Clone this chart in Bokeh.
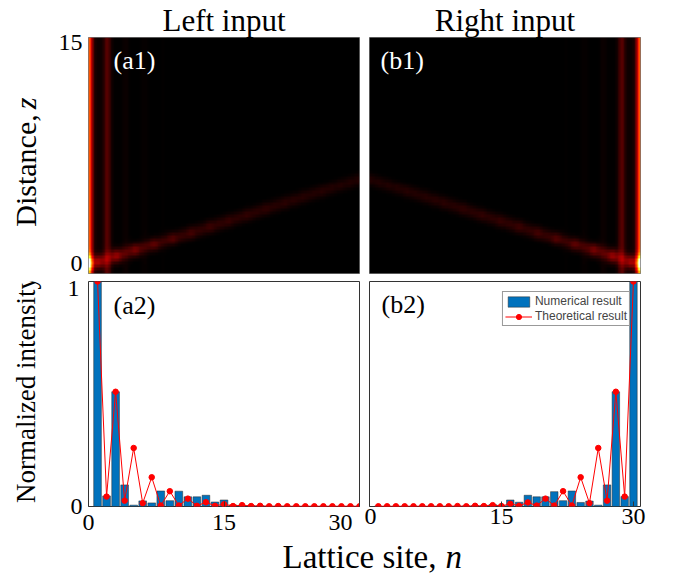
import numpy as np
from bokeh.plotting import figure
from bokeh.models import (LinearColorMapper, FixedTicker, Label, Range1d, Legend, LegendItem,
                          Title, LinearAxis)
from bokeh.layouts import column, row
from bokeh.embed import file_html
from bokeh.resources import INLINE
from bokeh.core.properties import value

# ---------------- data ----------------
sites = list(range(1, 31))
x_ticks = [0, 15, 30]
z_ticks = [0, 15]
y_ticks_low = [0]
y_ticks_high = [1]

numerical_left = [1.0, 0.047, 0.51, 0.096, 0.006, 0.025, 0.016, 0.069, 0.026, 0.068,
                  0.043, 0.043, 0.05, 0.02, 0.029, 0.007, 0.006, 0.004, 0.003, 0.002,
                  0.002, 0.002, 0.002, 0.002, 0.002, 0.002, 0.002, 0.002, 0.002, 0.002]
theory_left = [1.0, 0.044, 0.51, 0.026, 0.26, 0.015, 0.13, 0.004, 0.068, 0.004,
               0.035, 0.003, 0.019, 0.003, 0.01, 0.002, 0.006, 0.002, 0.003, 0.001,
               0.002, 0.001, 0.001, 0.001, 0.001, 0.001, 0.001, 0.001, 0.001, 0.001]
numerical_right = [0.002, 0.002, 0.002, 0.002, 0.002, 0.002, 0.002, 0.002, 0.002, 0.002,
                   0.003, 0.004, 0.005, 0.009, 0.006, 0.029, 0.019, 0.05, 0.043, 0.043,
                   0.066, 0.026, 0.069, 0.018, 0.024, 0.006, 0.096, 0.51, 0.044, 1.0]
theory_right = [0.001, 0.001, 0.001, 0.001, 0.001, 0.001, 0.001, 0.001, 0.001, 0.002,
                0.001, 0.003, 0.002, 0.006, 0.002, 0.012, 0.003, 0.018, 0.004, 0.035,
                0.004, 0.068, 0.004, 0.13, 0.015, 0.26, 0.026, 0.51, 0.044, 1.0]

# propagation map (a1): steady edge-mode intensity per site
hm_mode = [0.52, 0.02, 0.13, 0.005, 0.02, 0.0, 0.012, 0.0, 0.005, 0.0,
           0.0, 0.0, 0.0, 0.0, 0.0, 0.0, 0.0, 0.0, 0.0, 0.0,
           0.0, 0.0, 0.0, 0.0, 0.0, 0.0, 0.0, 0.0, 0.0, 0.0]
hm_input_peak = 0.6
# escaping beam: site, distance z and intensity along its path
hm_beam_site = list(range(2, 31))
hm_beam_z = [0.1, 0.3, 0.5, 0.7, 0.9, 1.1, 1.3, 1.5, 1.7, 1.9, 2.1, 2.3, 2.5, 2.7, 2.9,
             3.1, 3.3, 3.5, 3.7, 3.9, 4.1, 4.3, 4.5, 4.7, 4.9, 5.1, 5.3, 5.5, 5.7]
hm_beam_I = [0.22, 0.12, 0.2, 0.1, 0.16, 0.08, 0.13, 0.07, 0.11, 0.065, 0.09, 0.06, 0.08,
             0.06, 0.07, 0.055, 0.065, 0.055, 0.06, 0.05, 0.055, 0.05, 0.05, 0.045, 0.05,
             0.045, 0.045, 0.045, 0.045]

# ---------------- layout constants ----------------
FW = 271
TOP_FH = 236
BOT_FH = 225
Z_RANGE = (-0.67, 15.34)
SERIF = "Liberation Serif"


def hot(t):
    r = min(1.0, t / 0.375)
    g = min(1.0, max(0.0, (t - 0.375) / 0.375))
    b = min(1.0, max(0.0, (t - 0.75) / 0.25))
    return "#%02x%02x%02x" % (int(r * 255), int(g * 255), int(b * 255))


palette = [hot(i / 255) for i in range(256)]
cmap = LinearColorMapper(palette=palette, low=0, high=1)

# render the map field from the read values
W, H = 174, 80
xc = 1 + (np.arange(W) + 0.5) * 29 / W
zc = Z_RANGE[0] + (np.arange(H) + 0.5) * (Z_RANGE[1] - Z_RANGE[0]) / H
X, Z = np.meshgrid(xc, zc)
field = np.zeros((H, W))
for n, a in zip(sites, hm_mode):
    field += a * np.exp(-0.5 * ((X - n) / 0.3) ** 2)
field += hm_input_peak * np.exp(-0.5 * ((X - 1) / 0.3) ** 2 - 0.5 * (Z / 0.35) ** 2)
for n, zb, a in zip(hm_beam_site, hm_beam_z, hm_beam_I):
    field += a * np.exp(-0.5 * ((X - n) / 0.45) ** 2 - 0.5 * ((Z - zb) / 0.3) ** 2)
field_left = field
field_right = field[:, ::-1]


def to_data(px, py, fl, ft, fh, xr, yr):
    x = xr[0] + (px - fl) / FW * (xr[1] - xr[0])
    y = yr[1] - (py - ft) / fh * (yr[1] - yr[0])
    return x, y


def add_label(fig, text, pos, size, color="black"):
    fig.add_layout(Label(x=pos[0], y=pos[1], text=text, text_font=SERIF,
                         text_font_size=f"{size}px", text_color=color,
                         text_align="left", text_baseline="middle"))


def style_axis(ax):
    ax.major_tick_out = 0
    ax.minor_tick_line_color = None
    ax.axis_line_color = None
    ax.major_label_text_font = SERIF
    ax.major_label_text_font_size = "24px"
    ax.major_label_text_color = "black"


def heat_fig(img, title, left_border, right_border, show_y):
    p = figure(frame_width=FW, frame_height=TOP_FH, x_range=Range1d(1, 30),
               y_range=Range1d(*Z_RANGE), min_border_left=left_border,
               min_border_right=right_border, min_border_top=34, min_border_bottom=4,
               output_backend="svg", toolbar_location=None)
    p.title = Title(text=title, align="center", text_font=SERIF, text_font_size="31px",
                    text_font_style="normal", text_color="black", standoff=0, offset=0)
    p.image(image=[img], x=1, y=Z_RANGE[0], dw=29, dh=Z_RANGE[1] - Z_RANGE[0],
            color_mapper=cmap)
    p.xaxis.visible = False
    p.grid.visible = False
    p.outline_line_color = "#777777"
    p.background_fill_color = "black"
    if show_y:
        p.yaxis.ticker = FixedTicker(ticks=z_ticks)
        style_axis(p.yaxis[0])
        p.yaxis.major_tick_in = 0
        p.yaxis.major_label_standoff = 6
    else:
        p.yaxis.visible = False
    return p


def bar_fig(numerical, theory, xr, left_border, right_border, show_y, legend):
    p = figure(frame_width=FW, frame_height=BOT_FH, x_range=Range1d(*xr),
               y_range=Range1d(0, 1), min_border_left=left_border,
               min_border_right=right_border, min_border_top=4, min_border_bottom=30,
               output_backend="svg", toolbar_location=None)
    bars = p.vbar(x=sites, top=numerical, width=0.85, fill_color="#0072BD",
                  line_color="#2b2b2b", line_width=0.5)
    ln = p.line(sites, theory, line_color="#FF0000", line_width=1)
    dots = p.scatter(sites, theory, size=5.5, fill_color="#FF0000", line_color="#FF0000")
    p.grid.visible = False
    p.outline_line_color = "#333333"
    p.xaxis.ticker = FixedTicker(ticks=x_ticks)
    if show_y:
        p.xaxis.major_label_overrides = {30: "30\u00a0\u00a0"}
    style_axis(p.xaxis[0])
    p.xaxis.major_tick_in = 5
    p.xaxis.major_tick_line_color = "#333333"
    p.xaxis.major_label_standoff = 2
    if show_y:
        # "0" centred on its tick; "1" hangs just below the top of the frame
        p.yaxis.ticker = FixedTicker(ticks=y_ticks_low)
        style_axis(p.yaxis[0])
        p.yaxis.major_tick_in = 0
        p.yaxis.major_label_standoff = 6
        top_axis = LinearAxis(ticker=FixedTicker(ticks=y_ticks_high))
        style_axis(top_axis)
        top_axis.major_tick_in = 0
        top_axis.major_label_standoff = -12
        top_axis.major_label_text_baseline = "top"
        p.add_layout(top_axis, "left")
    else:
        p.yaxis.visible = False
    if legend:
        lg = Legend(items=[LegendItem(label="Numerical result", renderers=[bars]),
                           LegendItem(label="Theoretical result", renderers=[ln, dots])],
                    location="top_right", margin=10, padding=2, spacing=1,
                    glyph_width=27, glyph_height=13, label_standoff=3,
                    label_text_font="Liberation Sans", label_text_font_size="12px",
                    label_height=13, border_line_color="#333333", border_line_width=1,
                    background_fill_alpha=1)
        p.add_layout(lg)
    return p


def strip(w, h):
    p = figure(frame_width=w, frame_height=h, x_range=Range1d(0, w), y_range=Range1d(0, h),
               min_border=0, min_border_left=0, min_border_right=0, min_border_top=0,
               min_border_bottom=0, x_axis_type=None, y_axis_type=None,
               output_backend="svg", toolbar_location=None)
    p.grid.visible = False
    p.outline_line_color = None
    return p


def strip_text(p, x, y, text, size, align, style="normal", angle=0.0):
    p.text(x=[x], y=[y], text=[text], text_font=value(SERIF), text_font_size=value(f"{size}px"),
           text_align=align, text_baseline="middle", text_font_style=style,
           angle=angle, text_color="black")


# ---------------- panels ----------------
TOP_H = 34 + TOP_FH + 4      # 274
BOT_H = 4 + BOT_FH + 30      # 259
XL_H = 576 - TOP_H - BOT_H   # 43
STRIP_W = 52
LB = 88 - STRIP_W

tl = heat_fig(field_left, "Left input", LB, 5, True)
tr = heat_fig(field_right, "Right input", 5, 10, False)
bl = bar_fig(numerical_left, theory_left, (0, 30), LB, 5, True, False)
br = bar_fig(numerical_right, theory_right, (0, 30.8), 5, 10, False, True)

TOP_T = 34
BOT_T = TOP_H + 4
tl_map = lambda px, py: to_data(px, py, 88, TOP_T, TOP_FH, (1, 30), Z_RANGE)
tr_map = lambda px, py: to_data(px, py, 369, TOP_T, TOP_FH, (1, 30), Z_RANGE)
bl_map = lambda px, py: to_data(px, py, 88, BOT_T, BOT_FH, (0, 30), (0, 1))
br_map = lambda px, py: to_data(px, py, 369, BOT_T, BOT_FH, (0, 30.8), (0, 1))

add_label(tl, "(a1)", tl_map(113, 57), 26, color="white")
add_label(tr, "(b1)", tr_map(380, 57), 26, color="white")
add_label(bl, "(a2)", bl_map(113, 302), 26)
add_label(br, "(b2)", br_map(381, 301), 26)

# y-axis titles in narrow strips left of the panels
yl_top = strip(STRIP_W, TOP_H)
strip_text(yl_top, 25, TOP_H - 133, "Distance,", 30, "center", angle=np.pi / 2)
strip_text(yl_top, 25, TOP_H - 66, "z", 30, "center", style="italic", angle=np.pi / 2)
yl_bot = strip(STRIP_W, BOT_H)
strip_text(yl_bot, 25, (TOP_H + BOT_H) - 382, "Normalized intensity", 27, "center", angle=np.pi / 2)

# x-axis title spanning both lower panels
XL_W = STRIP_W + (LB + FW + 5) + (5 + FW + 10)
xl = strip(XL_W, XL_H)
y_xl = 23.5
strip_text(xl, 436, y_xl, "Lattice site,", 33, "right")
strip_text(xl, 445, y_xl, "n", 33, "left", style="italic")

layout = column(row(yl_top, tl, tr), row(yl_bot, bl, br), xl)

open("out.html", "w").write(file_html(layout, INLINE))
